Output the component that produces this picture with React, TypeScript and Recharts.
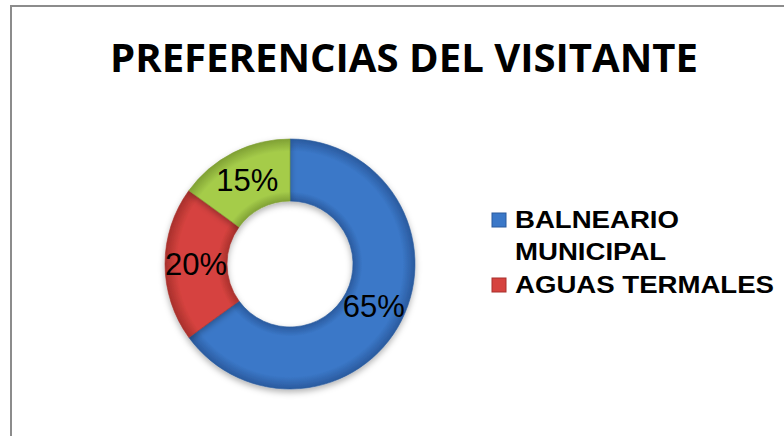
import React from "react";
import { PieChart, Pie, Cell, Legend } from "recharts";

const title = "PREFERENCIAS DEL VISITANTE";
const categories = ["BALNEARIO MUNICIPAL", "AGUAS TERMALES", "OTROS"];
const values = [65, 20, 15];
const colors = ["#3b78c8", "#d6433f", "#a5cc4a"];
const darkColors = ["#2a5a9e", "#a8302c", "#7fa034"];
const legendShown = 2;

const data = categories.map((name, i) => ({ name, value: values[i] }));

const W = 784;
const H = 436;
const CX = 290;
const CY = 264;
const R_IN = 63;
const R_OUT = 125;
const RAD = Math.PI / 180;

const renderLabel = (props: any) => {
  const { cx, cy, midAngle, innerRadius, outerRadius, value } = props;
  const r = (innerRadius + outerRadius) / 2;
  const x = cx + r * Math.cos(-midAngle * RAD);
  const y = cy + r * Math.sin(-midAngle * RAD);
  return (
    <text
      x={x}
      y={y}
      textAnchor="middle"
      dominantBaseline="central"
      fill="#000"
      fontFamily="'Liberation Sans', Arial, sans-serif"
      fontSize={31}
    >
      {`${value}%`}
    </text>
  );
};

const splitName = (name: string) => {
  if (name.length > 16) {
    const i = name.indexOf(" ");
    return [name.slice(0, i), name.slice(i + 1)];
  }
  return [name];
};

const LegendContent = (props: any) => {
  const payload = [...(props.payload || [])]
    .sort(
      (a: any, b: any) =>
        categories.indexOf(String(a.value)) - categories.indexOf(String(b.value))
    )
    .slice(0, legendShown);
  let y = 28;
  const items: any[] = [];
  payload.forEach((entry: any, idx: number) => {
    const ci = categories.indexOf(String(entry.value));
    const lines = splitName(String(entry.value));
    const baseY = y;
    items.push(
      <g key={idx}>
        <rect
          x={7}
          y={baseY - 15}
          width={14}
          height={14}
          fill={colors[ci]}
          stroke={darkColors[ci]}
          strokeWidth={1}
        />
        <g transform={`translate(30,0) scale(1.2,1)`}>
          {lines.map((ln, li) => (
            <text
              key={li}
              x={0}
              y={baseY + li * 32}
              fontFamily="'Liberation Sans', Arial, sans-serif"
              fontWeight="bold"
              fontSize={23}
              fill="#000"
            >
              {ln}
            </text>
          ))}
        </g>
      </g>
    );
    y = baseY + (lines.length - 1) * 32 + 33;
  });
  return (
    <svg width={299} height={120} style={{ overflow: "visible" }}>
      {items}
    </svg>
  );
};

export default function App() {
  return (
    <div
      style={{
        position: "absolute",
        left: 0,
        top: 0,
        width: W,
        height: H,
        overflow: "hidden",
        background: "#fff",
      }}
    >
      <div
        style={{
          position: "absolute",
          left: 10,
          top: 5,
          width: 900,
          height: 600,
          borderLeft: "2px solid #8c8c8c",
          borderTop: "2px solid #8c8c8c",
        }}
      />
      <svg
        width={W}
        height={100}
        style={{ position: "absolute", left: 0, top: 0 }}
      >
        <text
          x={110}
          y={72}
          textLength={588}
          lengthAdjust="spacingAndGlyphs"
          fontFamily="'Open Sans', sans-serif"
          fontWeight="bold"
          fontSize={40}
          fill="#000"
        >
          {title}
        </text>
      </svg>
      <div style={{ position: "absolute", left: 0, top: 0 }}>
        <PieChart width={W} height={H} margin={{ top: 0, right: 0, bottom: 0, left: 0 }}>
          <defs>
            {colors.map((c, i) => (
              <radialGradient
                key={i}
                id={`grad${i}`}
                gradientUnits="userSpaceOnUse"
                cx={CX}
                cy={CY}
                r={R_OUT}
              >
                <stop offset="0.5" stopColor={darkColors[i]} />
                <stop offset="0.58" stopColor={c} />
                <stop offset="0.9" stopColor={c} />
                <stop offset="1" stopColor={darkColors[i]} />
              </radialGradient>
            ))}
            <filter id="shadow" x="-20%" y="-20%" width="140%" height="140%">
              <feDropShadow dx="0" dy="3" stdDeviation="3" floodColor="#000" floodOpacity="0.3" />
            </filter>
          </defs>
          <Pie
            data={data}
            dataKey="value"
            nameKey="name"
            cx={CX}
            cy={CY}
            innerRadius={R_IN}
            outerRadius={R_OUT}
            startAngle={90}
            endAngle={-270}
            label={renderLabel}
            labelLine={false}
            isAnimationActive={false}
            style={{ filter: "url(#shadow)" }}
          >
            {data.map((_, i) => (
              <Cell key={i} fill={`url(#grad${i})`} stroke={darkColors[i]} strokeWidth={0.6} />
            ))}
          </Pie>
          <Legend
            layout="vertical"
            align="right"
            verticalAlign="middle"
            content={<LegendContent />}
            wrapperStyle={{ left: 485, top: 200, width: 299, height: 120 }}
          />
        </PieChart>
      </div>
    </div>
  );
}
